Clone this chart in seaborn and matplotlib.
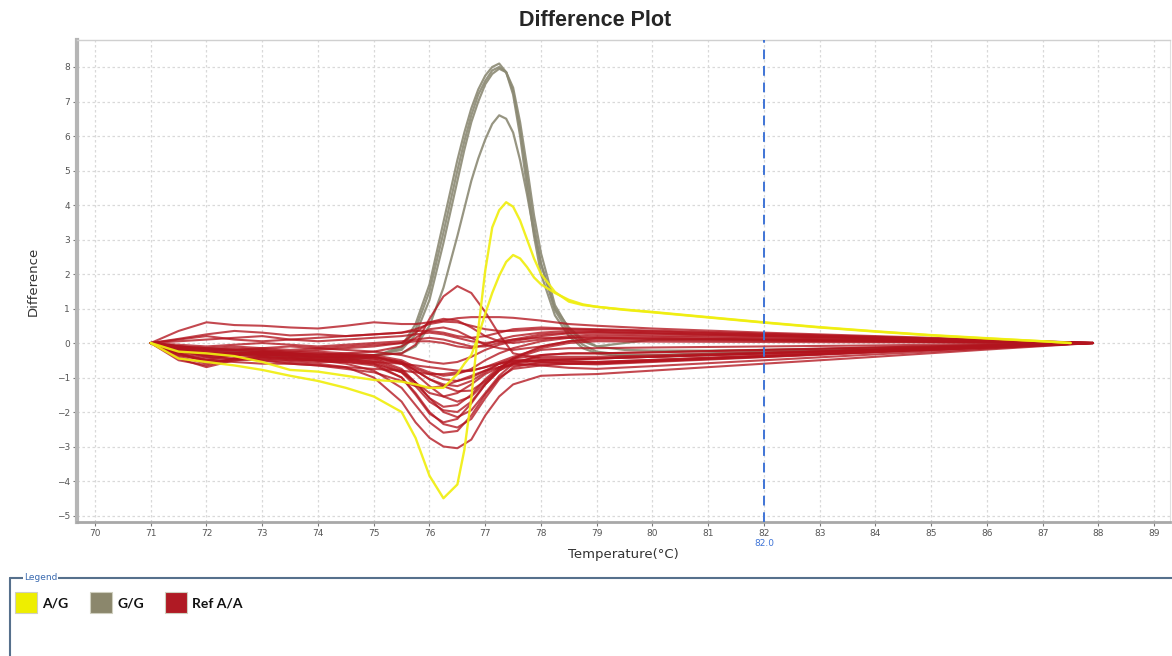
import matplotlib
matplotlib.use("Agg")
import matplotlib.pyplot as plt
import pandas as pd
import seaborn as sns
from matplotlib.patches import Rectangle
from matplotlib.lines import Line2D

# ---------------- data ----------------
temp_fine = [71, 71.5, 72, 72.5, 73, 73.5, 74, 74.5, 75,
             75.5, 75.75, 76, 76.25, 76.5, 76.625, 76.75, 76.875, 77,
             77.125, 77.25, 77.375, 77.5, 77.625, 77.75, 77.875, 78,
             78.25, 78.5, 78.75, 79, 79.5, 80,
             81, 82, 83, 84, 85, 86, 87, 87.5]

temp_ref = [71, 71.5, 72, 72.5, 73, 73.5, 74, 74.5, 75,
            75.5, 75.75, 76, 76.25, 76.5, 76.75, 77, 77.25, 77.5,
            78, 78.5, 79, 80,
            82, 84, 86, 87.9]

ag_1 = [0, -0.45, -0.55, -0.65, -0.78, -0.95, -1.10, -1.30, -1.55,
        -2.00, -2.75, -3.85, -4.50, -4.10, -3.10, -1.60, 0.40, 2.10,
        3.35, 3.85, 4.08, 3.95, 3.55, 3.00, 2.45, 2.00,
        1.48, 1.20, 1.10, 1.05, 0.97, 0.90,
        0.75, 0.60, 0.46, 0.34, 0.23, 0.14, 0.05, 0]
ag_2 = [0, -0.25, -0.30, -0.38, -0.55, -0.78, -0.83, -0.95, -1.07,
        -1.12, -1.20, -1.30, -1.30, -0.90, -0.60, -0.35, 0.20, 0.85,
        1.45, 1.95, 2.35, 2.55, 2.45, 2.20, 1.90, 1.70,
        1.45, 1.25, 1.12, 1.05, 0.96, 0.89,
        0.74, 0.59, 0.45, 0.33, 0.22, 0.13, 0.05, 0]

gg_1 = [0, -0.10, -0.15, -0.20, -0.30, -0.40, -0.50, -0.50, -0.40,
        -0.10, 0.55, 1.70, 3.50, 5.30, 6.10, 6.80, 7.35, 7.75,
        8.00, 8.10, 7.85, 7.20, 6.00, 4.50, 3.10, 2.00,
        0.80, 0.20, -0.15, -0.30, -0.40, -0.40,
        -0.35, -0.30, -0.25, -0.20, -0.15, -0.10, -0.04, 0]
gg_2 = [0, -0.15, -0.20, -0.25, -0.30, -0.35, -0.40, -0.45, -0.40,
        -0.15, 0.40, 1.50, 3.20, 5.00, 5.85, 6.60, 7.20, 7.60,
        7.90, 8.00, 7.85, 7.30, 6.20, 4.80, 3.40, 2.30,
        0.95, 0.30, -0.05, -0.25, -0.35, -0.35,
        -0.30, -0.25, -0.20, -0.16, -0.12, -0.08, -0.03, 0]
gg_3 = [0, -0.20, -0.30, -0.35, -0.35, -0.40, -0.45, -0.40, -0.35,
        -0.20, 0.25, 1.25, 2.90, 4.70, 5.60, 6.40, 7.00, 7.50,
        7.80, 7.95, 7.85, 7.40, 6.40, 5.10, 3.70, 2.60,
        1.10, 0.40, 0.05, -0.10, 0.00, 0.10,
        0.10, 0.08, 0.06, 0.05, 0.03, 0.02, 0.01, 0]
gg_4 = [0, -0.10, -0.20, -0.25, -0.25, -0.30, -0.35, -0.35, -0.35,
        -0.30, -0.10, 0.50, 1.60, 3.10, 3.90, 4.70, 5.35, 5.90,
        6.35, 6.60, 6.50, 6.10, 5.30, 4.30, 3.20, 2.30,
        1.00, 0.45, 0.10, -0.10, -0.20, -0.22,
        -0.22, -0.20, -0.18, -0.15, -0.12, -0.08, -0.03, 0]

ref_01 = [0, 0.35, 0.60, 0.52, 0.50, 0.45, 0.42, 0.50, 0.60, 0.55, 0.55, 0.60, 0.65, 0.72, 0.75, 0.75, 0.75, 0.73, 0.65, 0.55, 0.50, 0.42, 0.30, 0.20, 0.10, 0]
ref_02 = [0, 0.12, 0.25, 0.35, 0.30, 0.22, 0.25, 0.20, 0.25, 0.30, 0.40, 0.55, 0.62, 0.60, 0.50, 0.40, 0.35, 0.35, 0.40, 0.40, 0.38, 0.34, 0.25, 0.17, 0.08, 0]
ref_03 = [0, -0.15, -0.25, -0.30, -0.35, -0.35, -0.40, -0.40, -0.35, -0.30, -0.05, 0.70, 1.35, 1.65, 1.45, 0.90, 0.25, -0.30, -0.45, -0.45, -0.45, -0.40, -0.30, -0.20, -0.10, 0]
ref_04 = [0, -0.10, -0.20, -0.15, -0.20, -0.25, -0.20, -0.15, -0.10, 0.00, 0.30, 0.60, 0.70, 0.65, 0.45, 0.20, 0.05, 0.00, 0.10, 0.20, 0.25, 0.22, 0.17, 0.11, 0.05, 0]
ref_05 = [0, -0.20, -0.35, -0.30, -0.25, -0.30, -0.35, -0.30, -0.25, -0.10, 0.15, 0.40, 0.45, 0.35, 0.15, -0.05, -0.15, -0.20, -0.10, 0.05, 0.15, 0.13, 0.10, 0.07, 0.03, 0]
ref_06 = [0, -0.05, -0.10, -0.05, 0.00, -0.05, -0.10, -0.05, 0.00, 0.05, 0.10, 0.15, 0.10, 0.00, -0.10, -0.10, 0.00, 0.10, 0.25, 0.30, 0.32, 0.28, 0.21, 0.14, 0.07, 0]
ref_07 = [0, -0.35, -0.50, -0.45, -0.50, -0.55, -0.60, -0.70, -1.00, -1.70, -2.30, -2.75, -3.00, -3.05, -2.80, -2.10, -1.55, -1.20, -0.95, -0.92, -0.90, -0.80, -0.60, -0.40, -0.19, 0]
ref_08 = [0, -0.25, -0.40, -0.35, -0.40, -0.45, -0.50, -0.60, -0.80, -1.30, -1.80, -2.30, -2.60, -2.55, -2.10, -1.50, -1.00, -0.75, -0.65, -0.60, -0.58, -0.52, -0.39, -0.26, -0.13, 0]
ref_09 = [0, -0.30, -0.55, -0.50, -0.45, -0.50, -0.55, -0.55, -0.65, -1.00, -1.45, -2.00, -2.35, -2.45, -2.20, -1.60, -1.05, -0.70, -0.55, -0.55, -0.55, -0.49, -0.36, -0.24, -0.12, 0]
ref_10 = [0, -0.20, -0.35, -0.30, -0.35, -0.40, -0.45, -0.50, -0.60, -1.00, -1.50, -2.05, -2.30, -2.20, -1.75, -1.20, -0.80, -0.60, -0.50, -0.48, -0.45, -0.40, -0.30, -0.20, -0.10, 0]
ref_11 = [0, -0.40, -0.60, -0.45, -0.40, -0.45, -0.50, -0.45, -0.50, -0.80, -1.15, -1.60, -2.00, -2.15, -1.95, -1.45, -0.95, -0.60, -0.35, -0.30, -0.30, -0.27, -0.20, -0.13, -0.06, 0]
ref_12 = [0, -0.15, -0.30, -0.25, -0.30, -0.35, -0.40, -0.45, -0.55, -0.85, -1.25, -1.70, -1.95, -2.00, -1.70, -1.20, -0.80, -0.55, -0.40, -0.40, -0.40, -0.36, -0.27, -0.18, -0.09, 0]
ref_13 = [0, -0.30, -0.45, -0.35, -0.30, -0.40, -0.45, -0.40, -0.45, -0.75, -1.15, -1.60, -1.85, -1.80, -1.50, -1.05, -0.70, -0.50, -0.55, -0.60, -0.62, -0.55, -0.41, -0.27, -0.13, 0]
ref_14 = [0, -0.10, -0.20, -0.20, -0.25, -0.30, -0.30, -0.35, -0.40, -0.60, -0.90, -1.25, -1.55, -1.70, -1.55, -1.15, -0.75, -0.45, -0.20, -0.15, -0.15, -0.13, -0.10, -0.07, -0.03, 0]
ref_15 = [0, -0.45, -0.70, -0.50, -0.45, -0.50, -0.50, -0.55, -0.60, -0.85, -1.15, -1.45, -1.55, -1.45, -1.20, -0.90, -0.70, -0.60, -0.65, -0.72, -0.75, -0.67, -0.50, -0.33, -0.16, 0]
ref_16 = [0, -0.20, -0.30, -0.30, -0.35, -0.30, -0.35, -0.40, -0.45, -0.60, -0.80, -1.05, -1.25, -1.40, -1.38, -1.10, -0.75, -0.45, -0.10, 0.05, 0.10, 0.09, 0.07, 0.04, 0.02, 0]
ref_17 = [0, -0.35, -0.50, -0.35, -0.30, -0.35, -0.40, -0.35, -0.40, -0.55, -0.80, -1.05, -1.20, -1.25, -1.10, -0.85, -0.60, -0.45, -0.35, -0.30, -0.30, -0.27, -0.20, -0.13, -0.06, 0]
ref_18 = [0, -0.25, -0.35, -0.30, -0.25, -0.30, -0.30, -0.35, -0.40, -0.55, -0.75, -0.90, -1.05, -1.10, -1.00, -0.80, -0.60, -0.50, -0.50, -0.52, -0.55, -0.49, -0.37, -0.24, -0.12, 0]
ref_19 = [0, -0.15, -0.25, -0.20, -0.20, -0.25, -0.25, -0.30, -0.35, -0.50, -0.70, -0.85, -0.95, -0.90, -0.75, -0.50, -0.30, -0.15, 0.05, 0.15, 0.20, 0.18, 0.13, 0.09, 0.04, 0]
ref_20 = [0, -0.50, -0.65, -0.45, -0.40, -0.45, -0.50, -0.50, -0.55, -0.60, -0.65, -0.70, -0.75, -0.80, -0.80, -0.70, -0.55, -0.40, -0.15, 0.00, 0.05, 0.04, 0.03, 0.02, 0.01, 0]
ref_21 = [0, -0.20, -0.40, -0.45, -0.50, -0.60, -0.65, -0.70, -0.75, -0.80, -0.85, -0.90, -0.90, -0.85, -0.80, -0.70, -0.60, -0.55, -0.50, -0.48, -0.45, -0.40, -0.30, -0.20, -0.10, 0]
ref_22 = [0, -0.10, -0.15, -0.10, -0.15, -0.20, -0.15, -0.20, -0.25, -0.35, -0.45, -0.55, -0.60, -0.55, -0.40, -0.20, -0.05, 0.05, 0.20, 0.28, 0.30, 0.27, 0.20, 0.13, 0.06, 0]
ref_23 = [0, 0.05, 0.10, 0.15, 0.20, 0.10, 0.05, 0.10, 0.15, 0.20, 0.25, 0.30, 0.25, 0.15, 0.05, 0.00, 0.05, 0.10, 0.15, 0.15, 0.15, 0.13, 0.10, 0.07, 0.03, 0]
ref_24 = [0, -0.30, -0.50, -0.55, -0.60, -0.60, -0.65, -0.75, -0.85, -1.10, -1.25, -1.30, -1.25, -1.10, -0.95, -0.80, -0.70, -0.65, -0.60, -0.60, -0.60, -0.53, -0.40, -0.26, -0.13, 0]
ref_25 = [0, 0.10, 0.20, 0.10, 0.05, 0.10, 0.15, 0.20, 0.25, 0.30, 0.35, 0.35, 0.30, 0.20, 0.15, 0.20, 0.30, 0.40, 0.45, 0.42, 0.40, 0.36, 0.27, 0.18, 0.09, 0]
ref_26 = [0, -0.10, -0.15, -0.20, -0.15, -0.10, -0.15, -0.10, -0.05, 0.00, 0.05, 0.05, 0.00, -0.10, -0.15, -0.05, 0.10, 0.20, 0.30, 0.35, 0.35, 0.31, 0.23, 0.15, 0.07, 0]

genotypes = ["A/G", "G/G", "Ref A/A"]
genotype_colors = {"A/G": "#f0ee10", "G/G": "#8c8a74", "Ref A/A": "#b3141e"}
legend_colors = {"A/G": "#eeee00", "G/G": "#8b876c", "Ref A/A": "#b01a24"}
cursor_temp = 82.0
x_ticks = list(range(70, 90))
y_ticks = list(range(-5, 9))

groups = {
    "A/G": (temp_fine, {"AG1": ag_1, "AG2": ag_2}),
    "G/G": (temp_fine, {"GG1": gg_1, "GG2": gg_2, "GG3": gg_3, "GG4": gg_4}),
    "Ref A/A": (temp_ref, {f"R{i:02d}": v for i, v in enumerate(
        [ref_01, ref_02, ref_03, ref_04, ref_05, ref_06, ref_07, ref_08, ref_09,
         ref_10, ref_11, ref_12, ref_13, ref_14, ref_15, ref_16, ref_17, ref_18,
         ref_19, ref_20, ref_21, ref_22, ref_23, ref_24, ref_25, ref_26], 1)}),
}

rows = []
for g, (temps, curves) in groups.items():
    for name, vals in curves.items():
        assert len(vals) == len(temps), (name, len(vals), len(temps))
        for t, v in zip(temps, vals):
            rows.append((t, v, g, name))
df = pd.DataFrame(rows, columns=["Temperature", "Difference", "Genotype", "Sample"])

# ---------------- plot ----------------
sns.set_theme(style="white")
plt.rcParams["font.family"] = ["DejaVu Sans"]

W, H = 1172, 656
fig = plt.figure(figsize=(W / 100, H / 100), dpi=100)
ax_l, ax_r, ax_t, ax_b = 77, 1170, 40, 522
ax = fig.add_axes([ax_l / W, 1 - ax_b / H, (ax_r - ax_l) / W, (ax_b - ax_t) / H])

style = {"G/G": (1.6, 0.9, 2), "Ref A/A": (1.5, 0.78, 3), "A/G": (1.7, 0.92, 4)}
for g in ["G/G", "Ref A/A", "A/G"]:
    lw, a, z = style[g]
    sns.lineplot(data=df[df.Genotype == g], x="Temperature", y="Difference",
                 units="Sample", estimator=None, sort=False, color=genotype_colors[g],
                 linewidth=lw, alpha=a, legend=False, ax=ax, zorder=z)

ax.axvline(cursor_temp, color="#3f74d6", linestyle=(0, (5, 3.5)), linewidth=1.4, zorder=6)

x_per_px = 1 / 55.75
y_per_px = 1 / 34.5
ax.set_xlim(70 + (ax_l - 95) * x_per_px, 70 + (ax_r - 95) * x_per_px)
ax.set_ylim(-(ax_b - 343) * y_per_px, (343 - ax_t) * y_per_px)
ax.set_xticks(x_ticks)
ax.set_yticks(y_ticks)
ax.grid(True, color="#d9d9d9", linestyle=(0, (2, 2)), linewidth=0.9)
ax.set_axisbelow(True)
ax.tick_params(axis="both", which="both", direction="out", length=3, width=0.8,
               colors="#777777", labelsize=6.5, labelcolor="#555555",
               left=True, bottom=True, pad=2)
for side, (c, w) in {"left": ("#b5b5b5", 3.0), "bottom": ("#a8a8a8", 2.0),
                     "top": ("#d0d0d0", 1.0), "right": ("#e0e0e0", 0.8)}.items():
    ax.spines[side].set_color(c)
    ax.spines[side].set_linewidth(w)

ax.set_xlabel("Temperature(°C)", fontsize=9.5, color="#333333", labelpad=7)
ax.set_ylabel("Difference", fontsize=9.5, color="#333333", labelpad=12)
ax.text(cursor_temp, -0.035, f"{cursor_temp:.1f}", transform=ax.get_xaxis_transform(),
        ha="center", va="top", fontsize=6.5, color="#3f74d6")

fig.text(595 / W, 1 - 20 / H, "Difference Plot", ha="center", va="center",
         fontsize=15.5, fontweight="bold", family=["Liberation Sans", "DejaVu Sans"])

# legend panel
lc = "#56708c"
fig.add_artist(Line2D([10 / W, 1.0], [1 - 578 / H] * 2, color=lc, lw=1.5))
fig.add_artist(Line2D([10 / W, 10 / W], [1 - 578 / H, 0], color=lc, lw=1.5))
fig.text(24 / W, 1 - 578 / H, "Legend", fontsize=6.5, color="#3a6ab0", ha="left", va="center",
         bbox=dict(facecolor="white", edgecolor="none", pad=0.6))
sq_x = [15, 90, 165]
for g, x0 in zip(genotypes, sq_x):
    fig.add_artist(Rectangle((x0 / W, 1 - 613 / H), 22 / W, 21 / H,
                             facecolor=legend_colors[g], edgecolor="#cfcfbf", lw=0.8,
                             transform=fig.transFigure))
    fig.text((x0 + 27) / W, 1 - 603 / H, g, fontsize=10, fontweight="bold",
             family=["Lato", "DejaVu Sans"], ha="left", va="center", color="#111111")

fig.savefig("out.png", dpi=100)
